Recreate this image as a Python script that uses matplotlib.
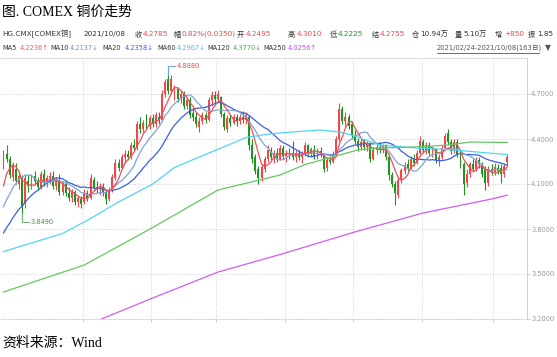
import numpy as np
import pandas as pd
import matplotlib
matplotlib.use("Agg")
import matplotlib.pyplot as plt
from matplotlib.lines import Line2D

# daily OHLC, 2021/02/24 - 2021/10/08 (163 bars)
opens = [4.22, 4.30, 4.27, 4.15, 4.20, 4.10, 4.14, 3.97, 4.12, 4.09,
         4.15, 4.12, 4.08, 4.17, 4.11, 4.14, 4.15, 4.09, 4.13, 4.05,
         4.10, 4.04, 4.01, 4.05, 3.98, 4.00, 3.98, 4.04, 4.01, 4.13,
         4.08, 4.07, 4.09, 4.05, 4.00, 4.06, 4.14, 4.24, 4.21, 4.28,
         4.30, 4.28, 4.36, 4.34, 4.50, 4.47, 4.52, 4.49, 4.54, 4.50,
         4.55, 4.53, 4.70, 4.80, 4.72, 4.68, 4.73, 4.67, 4.70, 4.62,
         4.66, 4.57, 4.55, 4.48, 4.52, 4.56, 4.53, 4.66, 4.69, 4.67,
         4.68, 4.57, 4.47, 4.54, 4.51, 4.55, 4.52, 4.55, 4.53, 4.55,
         4.36, 4.28, 4.20, 4.14, 4.20, 4.27, 4.33, 4.28, 4.31, 4.27,
         4.34, 4.29, 4.31, 4.31, 4.28, 4.31, 4.28, 4.30, 4.36, 4.30,
         4.33, 4.29, 4.32, 4.30, 4.21, 4.26, 4.25, 4.30, 4.40, 4.60,
         4.52, 4.55, 4.50, 4.43, 4.39, 4.35, 4.38, 4.35, 4.37, 4.27,
         4.33, 4.35, 4.33, 4.36, 4.28, 4.16, 4.10, 4.03, 4.13, 4.19,
         4.23, 4.21, 4.27, 4.24, 4.31, 4.38, 4.33, 4.36, 4.31, 4.33,
         4.26, 4.28, 4.34, 4.44, 4.38, 4.32, 4.38, 4.30, 4.23, 4.11,
         4.17, 4.23, 4.20, 4.26, 4.23, 4.20, 4.11, 4.20, 4.18, 4.21,
         4.21, 4.17, 4.2495]
highs = [4.33, 4.36, 4.29, 4.25, 4.24, 4.18, 4.16, 4.16, 4.16, 4.17,
         4.19, 4.15, 4.19, 4.20, 4.16, 4.18, 4.19, 4.15, 4.17, 4.12,
         4.13, 4.08, 4.07, 4.06, 4.03, 4.02, 4.07, 4.06, 4.17, 4.15,
         4.12, 4.11, 4.11, 4.06, 4.08, 4.17, 4.27, 4.27, 4.30, 4.33,
         4.33, 4.38, 4.40, 4.52, 4.55, 4.53, 4.57, 4.56, 4.57, 4.58,
         4.58, 4.73, 4.80, 4.888, 4.83, 4.76, 4.75, 4.72, 4.72, 4.68,
         4.68, 4.62, 4.58, 4.55, 4.58, 4.58, 4.68, 4.72, 4.72, 4.73,
         4.69, 4.58, 4.56, 4.57, 4.57, 4.57, 4.57, 4.59, 4.58, 4.56,
         4.40, 4.30, 4.22, 4.23, 4.29, 4.36, 4.35, 4.33, 4.34, 4.36,
         4.36, 4.33, 4.34, 4.39, 4.33, 4.33, 4.32, 4.38, 4.37, 4.35,
         4.36, 4.34, 4.35, 4.31, 4.28, 4.29, 4.32, 4.42, 4.64, 4.62,
         4.58, 4.57, 4.52, 4.46, 4.41, 4.40, 4.40, 4.39, 4.38, 4.35,
         4.37, 4.38, 4.37, 4.37, 4.30, 4.18, 4.12, 4.15, 4.21, 4.25,
         4.27, 4.29, 4.30, 4.33, 4.42, 4.40, 4.38, 4.38, 4.35, 4.34,
         4.30, 4.36, 4.44, 4.47, 4.40, 4.40, 4.40, 4.32, 4.25, 4.20,
         4.25, 4.27, 4.28, 4.28, 4.25, 4.22, 4.22, 4.23, 4.24, 4.23,
         4.23, 4.23, 4.3010]
lows = [4.20, 4.25, 4.14, 4.12, 4.10, 4.07, 3.849, 3.94, 4.05, 4.07,
        4.10, 4.06, 4.07, 4.09, 4.08, 4.10, 4.07, 4.06, 4.03, 4.03,
        4.02, 3.99, 3.98, 3.96, 3.95, 3.94, 3.97, 3.99, 4.00, 4.06,
        4.04, 4.03, 4.02, 3.97, 3.99, 4.05, 4.13, 4.19, 4.20, 4.24,
        4.26, 4.27, 4.32, 4.33, 4.44, 4.45, 4.47, 4.47, 4.48, 4.48,
        4.50, 4.52, 4.68, 4.70, 4.70, 4.66, 4.65, 4.64, 4.60, 4.60,
        4.54, 4.52, 4.48, 4.45, 4.50, 4.51, 4.52, 4.62, 4.64, 4.65,
        4.55, 4.46, 4.45, 4.49, 4.50, 4.49, 4.50, 4.51, 4.50, 4.33,
        4.24, 4.17, 4.10, 4.12, 4.18, 4.25, 4.26, 4.24, 4.25, 4.26,
        4.27, 4.25, 4.27, 4.26, 4.25, 4.26, 4.24, 4.29, 4.28, 4.28,
        4.27, 4.27, 4.28, 4.18, 4.19, 4.23, 4.24, 4.29, 4.39, 4.50,
        4.49, 4.47, 4.40, 4.37, 4.32, 4.33, 4.33, 4.32, 4.25, 4.26,
        4.30, 4.31, 4.31, 4.26, 4.13, 4.08, 3.96, 4.01, 4.11, 4.17,
        4.19, 4.20, 4.22, 4.23, 4.30, 4.31, 4.30, 4.29, 4.28, 4.24,
        4.22, 4.27, 4.33, 4.36, 4.30, 4.31, 4.28, 4.21, 4.03, 4.08,
        4.15, 4.18, 4.19, 4.21, 4.15, 4.06, 4.09, 4.16, 4.16, 4.17,
        4.11, 4.15, 4.2225]
closes = [4.31, 4.27, 4.16, 4.22, 4.12, 4.15, 3.95, 4.14, 4.09, 4.15,
          4.12, 4.08, 4.17, 4.11, 4.14, 4.15, 4.09, 4.13, 4.05, 4.10,
          4.04, 4.01, 4.05, 3.98, 4.01, 3.97, 4.04, 4.01, 4.14, 4.08,
          4.07, 4.09, 4.04, 4.00, 4.06, 4.15, 4.24, 4.21, 4.28, 4.30,
          4.28, 4.36, 4.34, 4.50, 4.47, 4.51, 4.49, 4.54, 4.50, 4.56,
          4.53, 4.70, 4.78, 4.72, 4.80, 4.73, 4.67, 4.70, 4.62, 4.66,
          4.56, 4.55, 4.50, 4.52, 4.56, 4.53, 4.66, 4.69, 4.67, 4.70,
          4.57, 4.48, 4.54, 4.51, 4.55, 4.52, 4.55, 4.53, 4.56, 4.36,
          4.27, 4.19, 4.14, 4.21, 4.27, 4.33, 4.28, 4.31, 4.27, 4.34,
          4.29, 4.31, 4.29, 4.28, 4.31, 4.28, 4.30, 4.36, 4.30, 4.33,
          4.29, 4.32, 4.30, 4.20, 4.26, 4.25, 4.30, 4.40, 4.60, 4.52,
          4.55, 4.49, 4.43, 4.39, 4.35, 4.38, 4.35, 4.37, 4.27, 4.33,
          4.35, 4.33, 4.36, 4.28, 4.16, 4.10, 4.04, 4.13, 4.19, 4.23,
          4.21, 4.27, 4.24, 4.31, 4.39, 4.33, 4.36, 4.31, 4.33, 4.26,
          4.28, 4.34, 4.42, 4.38, 4.32, 4.38, 4.30, 4.23, 4.10, 4.17,
          4.23, 4.20, 4.26, 4.23, 4.17, 4.11, 4.20, 4.18, 4.21, 4.19,
          4.17, 4.22, 4.2785]
# closes before 2021/02/24, only used to start the short moving averages
pre_closes = [3.55, 3.56, 3.52, 3.54, 3.56, 3.57, 3.58, 3.63, 3.72, 3.75,
              3.80, 3.80, 3.78, 3.85, 3.83, 3.86, 3.98, 4.10, 4.18]

# long moving averages (bar index, value)
ma60_bars = [0, 19, 28, 37, 48, 55, 63, 70, 78, 86, 95, 102, 108, 113, 121, 133, 145, 154, 162]
ma60_vals = [3.65, 3.77, 3.87, 3.98, 4.10, 4.21, 4.28, 4.34, 4.41, 4.435, 4.45, 4.46,
             4.447, 4.42, 4.36, 4.34, 4.327, 4.31, 4.2967]
ma120_bars = [0, 26, 48, 69, 89, 97, 107, 114, 121, 133, 143, 150, 162]
ma120_vals = [3.38, 3.56, 3.81, 4.06, 4.16, 4.23, 4.287, 4.327, 4.34, 4.347, 4.36, 4.38, 4.377]
ma250_bars = [28, 48, 69, 89, 113, 135, 157, 162]
ma250_vals = [3.17, 3.34, 3.513, 3.63, 3.78, 3.907, 4.0, 4.0256]

month_start_bars = [26, 48, 69, 91, 113, 135, 158]
yticks = [3.2, 3.5, 3.8, 4.1, 4.4, 4.7]

RED = "#f0474c"
GREEN = "#1c961c"
DARK = "#333333"
C_MA5 = "#f0505a"
C_MA10 = "#7fa3d6"
C_MA20 = "#3b5fe0"
C_MA60 = "#4fd6f2"
C_MA120 = "#62c962"
C_MA250 = "#d35cf2"
FAM = ["DejaVu Sans", "Noto Sans CJK SC"]

W, H = 557, 357
fig = plt.figure(figsize=(W / 100, H / 100), dpi=100)
ax = fig.add_axes([1 / W, 1 - 319 / H, 526 / W, 261 / H])

o = np.array(opens)
hi = np.array(highs)
lo = np.array(lows)
c = np.array(closes)
x = np.arange(len(c))
up = c >= o
col = np.where(up, RED, GREEN)

ax.vlines(x, lo, hi, colors=col, linewidth=0.8, zorder=2)
body_h = np.maximum(np.abs(c - o), 0.004)
ax.bar(x, body_h, bottom=np.minimum(o, c), width=0.62, color=col,
       linewidth=0, zorder=2)

all_c = pd.Series(pre_closes + closes)
n_pre = len(pre_closes)
for n, colr in [(20, C_MA20), (10, C_MA10), (5, C_MA5)]:
    ma = all_c.rolling(n).mean().to_numpy()[n_pre:]
    ax.plot(x, ma, color=colr, linewidth=0.9, zorder=3)
ax.plot(ma60_bars, ma60_vals, color=C_MA60, linewidth=0.9, zorder=3)
ax.plot(ma120_bars, ma120_vals, color=C_MA120, linewidth=0.9, zorder=3)
ax.plot(ma250_bars, ma250_vals, color=C_MA250, linewidth=0.9, zorder=3)

# max / min markers
imax = int(np.argmax(hi))
imin = int(np.argmin(lo))
ax.plot([imax, imax, imax + 2.3], [hi[imax] - 0.06, hi[imax], hi[imax]],
        color="#6fa8d8", linewidth=0.8, zorder=4)
ax.text(imax + 2.6, hi[imax], f"{hi[imax]:.4f}", color=RED, fontsize=4.8,
        va="center", ha="left", family=FAM)
ax.plot([imin, imin, imin + 2.3], [lo[imin] + 0.06, lo[imin], lo[imin]],
        color="#7fb07f", linewidth=0.8, zorder=4)
ax.text(imin + 2.6, lo[imin], f"{lo[imin]:.4f}", color="#3c963c", fontsize=4.8,
        va="center", ha="left", family=FAM)

ax.set_xlim(-0.8, 168.4)
ax.set_ylim(3.2, 4.94)
ax.yaxis.tick_right()
ax.set_yticks(yticks)
ax.set_yticklabels([f"{v:.4f}" for v in yticks])
ax.set_xticks([m - 0.5 for m in month_start_bars])
ax.set_xticklabels([])
ax.tick_params(axis="y", colors="#c8c8c8", labelcolor="#999999", labelsize=4.8,
               length=2, pad=1, width=0.6)
ax.tick_params(axis="x", colors="#c8c8c8", length=2, width=0.6)
ax.grid(True, color="#d4d4d4", linestyle=(0, (1, 1.5)), linewidth=0.7)
ax.set_axisbelow(True)
ax.spines["left"].set_visible(False)
for side in ["top", "bottom"]:
    ax.spines[side].set_color("#d4d4d4")
    ax.spines[side].set_linestyle((0, (1, 1.5)))
    ax.spines[side].set_linewidth(0.7)
ax.spines["right"].set_color("#d0d0d0")
ax.spines["right"].set_linewidth(0.7)


def put(xp, yp, s, color=DARK, size=5.2, family=FAM):
    fig.text(xp / W, 1 - yp / H, s, color=color, fontsize=size,
             va="center", ha="left", family=list(family))


serif = ["Liberation Serif", "Noto Sans CJK SC"]
put(2, 12, "图. COMEX 铜价走势", color="black", size=10, family=serif)
put(2, 343, "资料来源：Wind", color="black", size=10, family=serif)

row1 = [(2, "HG.CMX[COMEX铜]", DARK), (83, "2021/10/08", DARK),
        (135, "收", DARK), (143, "4.2785", RED),
        (174, "幅", DARK), (182, "0.82%(0.0350)", RED),
        (237, "开", DARK), (246, "4.2495", RED),
        (288, "高", DARK), (297, "4.3010", RED),
        (330, "低", DARK), (338, "4.2225", GREEN),
        (372, "结", DARK), (380, "4.2755", RED),
        (412, "仓", DARK), (420, "10.94万", DARK),
        (455, "量", DARK), (463, "5.10万", DARK),
        (495, "增", DARK), (504, "+850", RED),
        (528, "振", DARK), (537, "1.85", DARK)]
for xp, s, colr in row1:
    put(xp, 34, s, colr)

row2 = [(2, "MA5", DARK), (20, "4.2236↑", C_MA5),
        (50, "MA10", DARK), (70, "4.2137↓", "#6a94d0"),
        (102, "MA20", DARK), (125, "4.2358↓", C_MA20),
        (157, "MA60", DARK), (177, "4.2967↓", "#3cc8f0"),
        (207, "MA120", DARK), (233, "4.3770↓", "#3fae3f"),
        (263, "MA250", DARK), (288, "4.0256↑", "#c848f0")]
for xp, s, colr in row2:
    put(xp, 48, s, colr, size=4.8)
put(437, 48, "2021/02/24-2021/10/08(163日)", "#555555", size=4.9)
put(545, 48, "▼", "#555555", size=5.5)
fig.add_artist(Line2D([437 / W, 539 / W], [1 - 53 / H, 1 - 53 / H],
                      color="#555555", linewidth=0.6))

fig.savefig("out.png", dpi=100)
